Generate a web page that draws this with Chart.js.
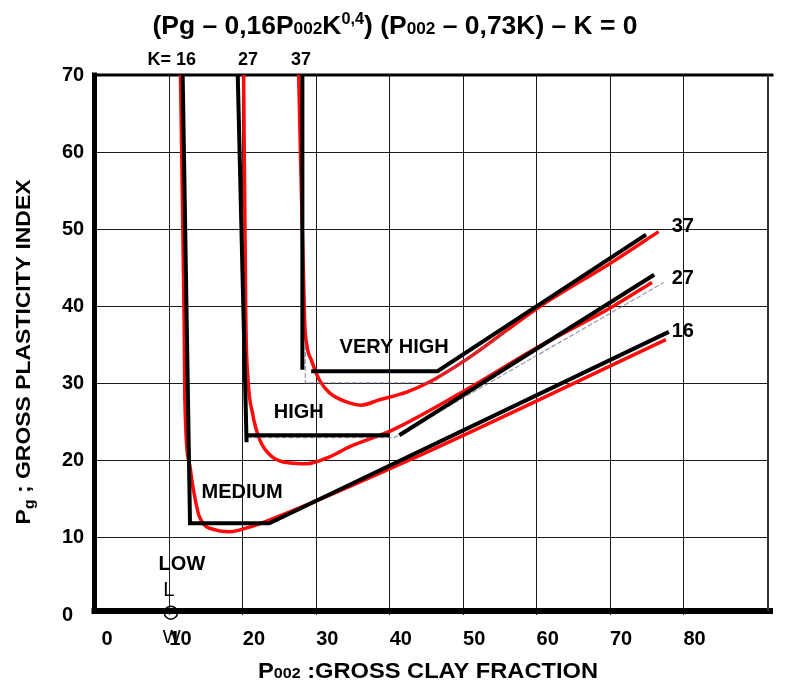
<!DOCTYPE html>
<html>
<head>
<meta charset="utf-8">
<script src="https://cdn.jsdelivr.net/npm/chart.js@4.4.1/dist/chart.umd.min.js"></script>
<style>
  html, body { margin: 0; padding: 0; background: #fff; }
  #wrap { width: 786px; height: 681px; }
</style>
</head>
<body>
<div id="wrap"><canvas id="chart" width="786" height="681"></canvas></div>
<script>
// --- data ---
const xTicks = [0, 10, 20, 30, 40, 50, 60, 70, 80];
const yTicks = [0, 10, 20, 30, 40, 50, 60, 70];
const kValues = ['16', '27', '37'];

// red curves (one per K)
const red16 = [[11.5, 70], [12.0, 38.3], [12.1, 27.9], [12.8, 19.2], [13.2, 16.6], [14.1, 12.7],
               [16.4, 11.0], [18.2, 10.8], [20.9, 11.4], [23.6, 12.3], [42.7, 20.1], [77.6, 35.7]];
const red27 = [[20.1, 70], [20.4, 38.3], [20.7, 30.5], [21.3, 26.2], [22.3, 22.7], [24.0, 20.5],
               [26.4, 19.7], [28.7, 19.6], [31.8, 20.5], [34.5, 21.8], [40.4, 24.0], [50.4, 29.2],
               [60.3, 34.8], [70.2, 39.9], [75.7, 43.1]];
const red37 = [[27.6, 70], [28.4, 38.3], [28.7, 35.0], [29.3, 33.1], [30.4, 30.5], [31.8, 28.8],
               [34.5, 27.5], [36.1, 27.2], [38.6, 27.9], [42.3, 28.9], [45.4, 30.2], [50.4, 33.1],
               [60.3, 39.9], [70.2, 45.7], [76.6, 49.7]];

// black boundary lines
const black16 = [[11.8, 70], [12.8, 11.9], [23.6, 11.9], [78.0, 36.7]];
const black27v = [[19.3, 70], [20.5, 22.4]];
const black27h = [[20.5, 23.3], [39.9, 23.3]];
const black27d = [[41.3, 23.3], [76.0, 44.1]];
const black37v = [[28.1, 70], [28.1, 31.8]];
const black37h = [[29.3, 31.6], [46.5, 31.6], [74.9, 49.3]];

// faint grey construction lines
const grey27 = [[20.5, 23.0], [40.6, 23.0], [77.3, 43.1]];
const grey37 = [[28.5, 35.0], [28.5, 30.1], [45.8, 30.1], [56.3, 37.0]];

const FONT = "'Liberation Sans', Arial, sans-serif";

function pts(arr) {
    return arr.map(p => ({ x: p[0], y: p[1] }));
}

function redSet(arr) {
    return { data: pts(arr), showLine: true, borderColor: '#ff0a0a', borderWidth: 3.5,
             pointRadius: 0, cubicInterpolationMode: 'monotone', order: 3 };
}
function blackSet(arr) {
    return { data: pts(arr), showLine: true, borderColor: '#000', borderWidth: 4,
             pointRadius: 0, tension: 0, order: 1 };
}
function greySet(arr) {
    return { data: pts(arr), showLine: true, borderColor: 'rgba(110,110,140,0.7)', borderWidth: 1.2,
             borderDash: [5, 2], pointRadius: 0, tension: 0, order: 2 };
}

// text notes placed in data units
const notes = [
    { text: 'K= ' + kValues[0], x: 10.3, y: 71.9, size: 18, bold: true },
    { text: kValues[1], x: 20.7, y: 71.9, size: 18, bold: true },
    { text: kValues[2], x: 27.9, y: 71.9, size: 18, bold: true },
    { text: kValues[2], x: 79.9, y: 50.3, size: 20, bold: true },
    { text: kValues[1], x: 79.9, y: 43.6, size: 20, bold: true },
    { text: kValues[0], x: 79.9, y: 36.8, size: 20, bold: true },
    { text: 'VERY HIGH', x: 40.6, y: 34.7, size: 20, bold: true },
    { text: 'HIGH', x: 27.6, y: 26.2, size: 20, bold: true },
    { text: 'MEDIUM', x: 19.9, y: 15.9, size: 20, bold: true },
    { text: 'LOW', x: 11.7, y: 6.5, size: 20, bold: true },
    { text: 'L', x: 9.9, y: 3.2, size: 20, bold: false },
    { text: 'W', x: 10.3, y: -3.0, size: 19, bold: false }
];
const circleAt = { x: 10.2, y: 0.3 };

// draws a line of mixed-size text, centred on cx, baseline at 0 (after transform)
function richText(ctx, parts, cx, cy, width, rotate) {
    let total = 0;
    parts.forEach(p => {
        ctx.font = 'bold ' + p[1] + 'px ' + FONT;
        total += ctx.measureText(p[0]).width;
    });
    const sx = width ? width / total : 1;
    ctx.save();
    ctx.translate(cx, cy);
    if (rotate) ctx.rotate(-Math.PI / 2);
    ctx.scale(sx, 1);
    ctx.fillStyle = '#000';
    ctx.textAlign = 'left';
    ctx.textBaseline = 'alphabetic';
    let x = -total / 2;
    parts.forEach(p => {
        ctx.font = 'bold ' + p[1] + 'px ' + FONT;
        ctx.fillText(p[0], x, p[2]);
        x += ctx.measureText(p[0]).width;
    });
    ctx.restore();
}

const decor = {
    id: 'decor',
    beforeDatasetsDraw(chart) {
        const ctx = chart.ctx;
        const a = chart.chartArea;
        ctx.save();
        ctx.strokeStyle = '#000';
        ctx.lineCap = 'square';
        ctx.lineWidth = 5;
        ctx.beginPath(); ctx.moveTo(a.left - 1.5, a.top); ctx.lineTo(a.left - 1.5, a.bottom - 4); ctx.stroke();
        ctx.lineWidth = 6;
        ctx.beginPath(); ctx.moveTo(a.left - 1.5, a.bottom - 4); ctx.lineTo(a.right + 2, a.bottom - 4); ctx.stroke();
        ctx.lineWidth = 3;
        ctx.beginPath(); ctx.moveTo(a.left, a.top); ctx.lineTo(a.right + 4, a.top); ctx.stroke();
        ctx.lineWidth = 2;
        ctx.lineCap = 'butt';
        ctx.strokeStyle = '#333';
        ctx.beginPath(); ctx.moveTo(a.right, a.top); ctx.lineTo(a.right, a.bottom - 4); ctx.stroke();
        ctx.restore();
    },
    afterDraw(chart) {
        const ctx = chart.ctx;
        const xs = chart.scales.x, ys = chart.scales.y;
        ctx.save();
        ctx.fillStyle = '#000';
        ctx.textAlign = 'center';
        ctx.textBaseline = 'middle';
        notes.forEach(n => {
            ctx.font = (n.bold ? 'bold ' : '') + n.size + 'px ' + FONT;
            ctx.fillText(n.text, xs.getPixelForValue(n.x), ys.getPixelForValue(n.y));
        });
        ctx.strokeStyle = '#000';
        ctx.lineWidth = 1.5;
        ctx.beginPath();
        ctx.arc(xs.getPixelForValue(circleAt.x), ys.getPixelForValue(circleAt.y), 6.5, 0, Math.PI * 2);
        ctx.stroke();
        ctx.restore();

        // chart title
        richText(ctx, [['(Pg \u2013 0,16P', 26, 0], ['002', 17, 0], ['K', 26, 0], ['0,4', 16, -10],
                       [') (P', 26, 0], ['002', 17, 0], [' \u2013 0,73K) \u2013 K = 0', 26, 0]],
                 395, 34, 485, false);
        // x axis title
        richText(ctx, [['P', 22, 0], ['002', 15, 0], [' :GROSS CLAY FRACTION', 22, 0]],
                 428, 678, 340, false);
        // y axis title
        richText(ctx, [['P', 20, 0], ['g', 14, 4], [' ; GROSS PLASTICITY INDEX', 20, 0]],
                 30, 352, 345, true);
    }
};

const datasets = [
    redSet(red16), redSet(red27), redSet(red37),
    greySet(grey27), greySet(grey37),
    blackSet(black16), blackSet(black27v), blackSet(black27h), blackSet(black27d),
    blackSet(black37v), blackSet(black37h)
];

new Chart(document.getElementById('chart'), {
    type: 'scatter',
    data: { datasets: datasets },
    options: {
        responsive: false,
        animation: false,
        devicePixelRatio: 1,
        layout: { padding: { top: 75, right: 18, left: 62, bottom: 0 } },
        plugins: { legend: { display: false }, tooltip: { enabled: false }, title: { display: false } },
        scales: {
            x: {
                type: 'linear', min: 0, max: 91.5,
                afterBuildTicks: s => { s.ticks = xTicks.map(v => ({ value: v })); },
                afterFit: s => { s.height = 66; },
                border: { display: false },
                grid: {
                    drawTicks: false, lineWidth: 1,
                    color: c => (c.tick && c.tick.value > 0 ? '#1a1a1a' : 'rgba(0,0,0,0)')
                },
                ticks: {
                    color: '#000', padding: 12, labelOffset: 11, autoSkip: false, maxRotation: 0,
                    font: { family: FONT, size: 20, weight: 'bold' }
                }
            },
            y: {
                type: 'linear', min: 0, max: 70,
                afterBuildTicks: s => { s.ticks = yTicks.map(v => ({ value: v })); },
                afterFit: s => { s.width = 34; },
                border: { display: false },
                grid: {
                    drawTicks: false, lineWidth: 1,
                    color: c => (c.tick && c.tick.value > 0 && c.tick.value < 70 ? '#1a1a1a' : 'rgba(0,0,0,0)')
                },
                ticks: {
                    color: '#000', padding: 0, crossAlign: 'far', autoSkip: false,
                    font: { family: FONT, size: 20, weight: 'bold' }
                }
            }
        }
    },
    plugins: [decor]
});
</script>
</body>
</html>
